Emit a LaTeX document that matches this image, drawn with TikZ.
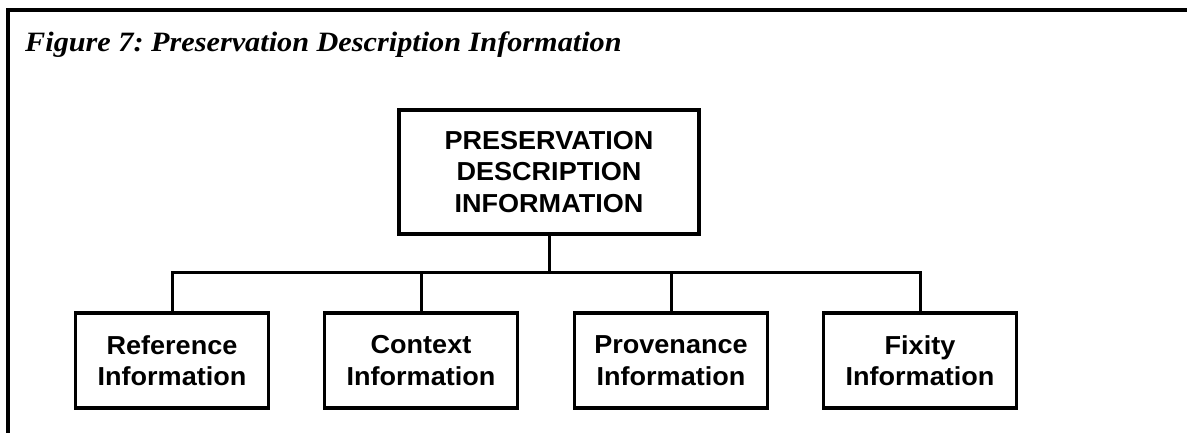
\documentclass[tikz,border=0pt]{standalone}
\usepackage{fontspec}
\setmainfont[FakeStretch=1.08]{Liberation Serif}
\newfontfamily\boxfont[FakeStretch=1.04]{Liberation Sans}
\frenchspacing
\begin{document}
\begin{tikzpicture}[x=1pt, y=-1pt,
        infobox/.style={draw, line width=3.5pt, align=center, inner sep=0pt,
            font=\boxfont\bfseries\fontsize{26}{31.5}\selectfont},
        link/.style={line width=3pt},
        frame/.style={line width=4pt}]
        \useasboundingbox (0,0) rectangle (1187,433);

        %%frame and title
        \draw[frame] (8,433) -- (8,10) -- (1187,10);
        \node[anchor=base west, inner sep=0pt,
            font=\bfseries\itshape\fontsize{28}{30}\selectfont] (title) at (25,52)
            {Figure 7: Preservation Description Information};

        %%top box
        \node[infobox, minimum width=300pt, minimum height=124pt] (pdi) at (549,172)
            {PRESERVATION\\DESCRIPTION\\INFORMATION};

        %%bottom boxes
        \node[infobox, minimum width=193pt, minimum height=95pt] (ref) at (172,360.5)
            {Reference\\Information};
        \node[infobox, minimum width=193pt, minimum height=95pt] (ctx) at (421,360.5)
            {Context\\Information};
        \node[infobox, minimum width=193pt, minimum height=95pt] (prov) at (671,360.5)
            {Provenance\\Information};
        \node[infobox, minimum width=193pt, minimum height=95pt] (fix) at (920,360.5)
            {Fixity\\Information};

        %%connectors
        \coordinate (bus) at (549,272);
        \draw[link] (pdi.south) -- (bus);
        \draw[link] (ref.north) |- (bus);
        \draw[link] (ctx.north) |- (bus);
        \draw[link] (prov.north) |- (bus);
        \draw[link] (fix.north) |- (bus);

    \end{tikzpicture}
\end{document}
